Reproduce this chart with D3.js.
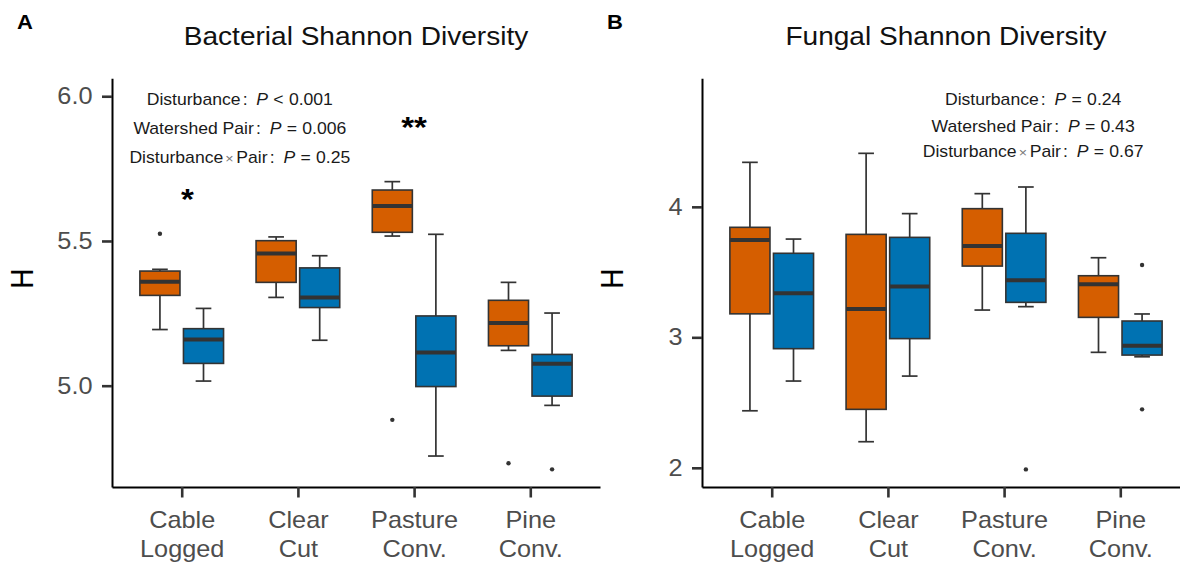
<!DOCTYPE html>
<html>
<head>
<meta charset="utf-8">
<script src="https://cdn.jsdelivr.net/npm/d3@7"></script>
<style>
  body { margin: 0; background: #fff; }
  svg { display: block; }
  text { font-family: "Liberation Sans", Arial, Helvetica, sans-serif; }
</style>
</head>
<body>
<svg id="chart" width="1180" height="565"></svg>
<script>
// ---- data ----------------------------------------------------------------
const categories = ["Cable Logged", "Clear Cut", "Pasture Conv.", "Pine Conv."];
const categoryLines = [["Cable", "Logged"], ["Clear", "Cut"], ["Pasture", "Conv."], ["Pine", "Conv."]];

// box summaries per category: [lower whisker, Q1, median, Q3, upper whisker]
const bacterialDisturbed = [
  [5.194, 5.312, 5.359, 5.396, 5.402],
  [5.305, 5.357, 5.457, 5.501, 5.514],
  [5.517, 5.530, 5.621, 5.676, 5.705],
  [5.122, 5.138, 5.217, 5.295, 5.357]
];
const bacterialDisturbedOutliers = [[5.525], [], [4.882], [4.732]];
const bacterialReference = [
  [5.016, 5.077, 5.160, 5.197, 5.267],
  [5.157, 5.270, 5.305, 5.407, 5.449],
  [4.757, 4.997, 5.115, 5.241, 5.523],
  [4.932, 4.964, 5.076, 5.108, 5.251]
];
const bacterialReferenceOutliers = [[], [], [], [4.711]];

const fungalDisturbed = [
  [2.437, 3.180, 3.746, 3.843, 4.341],
  [2.200, 2.448, 3.217, 3.789, 4.410],
  [3.209, 3.546, 3.700, 3.986, 4.101],
  [2.885, 3.153, 3.406, 3.472, 3.610]
];
const fungalDisturbedOutliers = [[], [], [], []];
const fungalReference = [
  [2.665, 2.913, 3.337, 3.644, 3.753],
  [2.703, 2.990, 3.390, 3.766, 3.948],
  [3.235, 3.268, 3.437, 3.797, 4.152],
  [2.851, 2.864, 2.936, 3.125, 3.179]
];
const fungalReferenceOutliers = [[], [], [1.988], [3.554, 2.448]];

const bacterialTicks = [5.0, 5.5, 6.0];
const fungalTicks = [2, 3, 4];

// model terms: [term, relation, P value]
const bacterialStats = [
  ["Disturbance", "<", "0.001"],
  ["Watershed Pair", "=", "0.006"],
  ["Disturbance × Pair", "=", "0.25"]
];
const fungalStats = [
  ["Disturbance", "=", "0.24"],
  ["Watershed Pair", "=", "0.43"],
  ["Disturbance × Pair", "=", "0.67"]
];

// significance marks: [category position (1-based), H value, label]
const bacterialMarks = [[1.05, 5.666, "*"], [3, 5.913, "**"]];
const fungalMarks = [];

// ---- drawing -------------------------------------------------------------
const svg = d3.select("#chart");
const SX = 1.1;                  // horizontal glyph stretch used for all text
const colors = ["#D55E00", "#0072B2"];
const ink = "#333333";

function stretched(parent, x, y) {
  return parent.append("text").attr("transform", `translate(${x},${y}) scale(${SX},1)`);
}

function drawPanel(cfg) {
  const g = svg.append("g").attr("transform", `translate(${cfg.offsetX},0)`);
  const left = 112, right = 600, top = 78.3, bottom = 487;

  const x = d3.scalePoint().domain(categories).range([left, right]).padding(0.6);
  const step = x.step();
  const xPos = u => x(categories[0]) + (u - 1) * step;   // continuous category position
  const y = d3.scaleLinear().domain(cfg.domain).range([bottom, top]);

  const dodge = 0.1875 * step;
  const boxW = 0.345 * step;
  const capW = 0.135 * step;

  // panel letter and title
  stretched(g, 17, 28.5).attr("font-size", 20).attr("font-weight", "bold")
    .attr("fill", "#000").text(cfg.letter);
  stretched(g, (left + right) / 2, 45).attr("font-size", 25.5).attr("text-anchor", "middle")
    .attr("fill", "#111").text(cfg.title);

  // y-axis title
  g.append("text")
    .attr("transform", `translate(22,278.7) scale(${SX},1) rotate(-90)`)
    .attr("font-size", 28).attr("text-anchor", "middle").attr("dominant-baseline", "central")
    .attr("fill", "#000").text("H");

  // boxes
  [cfg.disturbed, cfg.reference].forEach((series, si) => {
    const outliers = si === 0 ? cfg.disturbedOutliers : cfg.referenceOutliers;
    const sg = g.append("g");
    series.forEach((s, ci) => {
      const cx = x(categories[ci]) + (si === 0 ? -dodge : dodge);
      const [lo, q1, med, q3, hi] = s;
      const wg = sg.append("g").attr("stroke", ink).attr("stroke-width", 1.7).attr("fill", "none");
      wg.append("line").attr("x1", cx).attr("x2", cx).attr("y1", y(hi)).attr("y2", y(q3));
      wg.append("line").attr("x1", cx).attr("x2", cx).attr("y1", y(q1)).attr("y2", y(lo));
      wg.append("line").attr("x1", cx - capW / 2).attr("x2", cx + capW / 2).attr("y1", y(hi)).attr("y2", y(hi));
      wg.append("line").attr("x1", cx - capW / 2).attr("x2", cx + capW / 2).attr("y1", y(lo)).attr("y2", y(lo));
      sg.append("rect")
        .attr("x", cx - boxW / 2).attr("width", boxW)
        .attr("y", y(q3)).attr("height", y(q1) - y(q3))
        .attr("fill", colors[si]).attr("stroke", ink).attr("stroke-width", 1.6);
      sg.append("line")
        .attr("x1", cx - boxW / 2).attr("x2", cx + boxW / 2)
        .attr("y1", y(med)).attr("y2", y(med))
        .attr("stroke", ink).attr("stroke-width", 4);
      outliers[ci].forEach(v => {
        sg.append("circle").attr("cx", cx).attr("cy", y(v)).attr("r", 2.2).attr("fill", ink);
      });
    });
  });

  // axes
  const yAxis = g.append("g").attr("transform", `translate(${left},0)`)
    .call(d3.axisLeft(y).tickValues(cfg.ticks).tickFormat(cfg.fmt).tickSize(10).tickSizeOuter(0).tickPadding(9.5));
  const xAxis = g.append("g").attr("transform", `translate(0,${bottom})`)
    .call(d3.axisBottom(x).tickSize(10.5).tickSizeOuter(0));

  [yAxis, xAxis].forEach(a => {
    a.select(".domain").attr("stroke", "#000").attr("stroke-width", 2);
    a.selectAll(".tick line").attr("stroke", ink).attr("stroke-width", 2.6);
  });
  yAxis.selectAll(".tick text")
    .attr("x", -19.5 / SX).attr("transform", `scale(${SX},1)`)
    .attr("font-size", 23).attr("fill", "#4D4D4D").attr("font-family", null);

  xAxis.selectAll(".tick text").remove();
  xAxis.selectAll(".tick").each(function (d) {
    const lines = categoryLines[categories.indexOf(d)];
    const t = d3.select(this).append("text")
      .attr("transform", `scale(${SX},1)`)
      .attr("text-anchor", "middle").attr("font-size", 23).attr("fill", "#4D4D4D");
    lines.forEach((ln, i) => t.append("tspan").attr("x", 0).attr("y", i === 0 ? 41.3 : 69.7).text(ln));
  });

  // model statistics
  const statX = xPos(cfg.statPos);
  cfg.stats.forEach(([term, rel, p], i) => {
    const t = stretched(g, statX, cfg.statBaselines[i])
      .attr("text-anchor", "middle").attr("font-size", 16).attr("fill", "#1a1a1a");
    const parts = term.split(" × ");
    t.append("tspan").text(parts[0]);
    if (parts.length > 1) {
      t.append("tspan").attr("dx", "0.15em").attr("font-size", 13).attr("fill", "#777").text("×");
      t.append("tspan").attr("dx", "0.15em").text(parts[1]);
    }
    t.append("tspan").attr("dx", "0.12em").text(":");
    t.append("tspan").attr("dx", "0.5em").attr("font-style", "italic").text("P");
    t.append("tspan").attr("dx", "0.3em").text(rel);
    t.append("tspan").attr("dx", "0.3em").text(p);
  });

  // significance marks
  cfg.marks.forEach(([u, v, label]) => {
    stretched(g, xPos(u), y(v) + 15.6)
      .attr("text-anchor", "middle").attr("font-size", 30).attr("font-weight", "bold")
      .attr("fill", "#000").text(label);
  });
}

drawPanel({
  offsetX: 0, letter: "A", title: "Bacterial Shannon Diversity",
  domain: [4.650, 6.062], ticks: bacterialTicks, fmt: d3.format(".1f"),
  disturbed: bacterialDisturbed, disturbedOutliers: bacterialDisturbedOutliers,
  reference: bacterialReference, referenceOutliers: bacterialReferenceOutliers,
  stats: bacterialStats, statPos: 1.5, statBaselines: [105, 133.5, 162.7],
  marks: bacterialMarks
});

drawPanel({
  offsetX: 590, letter: "B", title: "Fungal Shannon Diversity",
  domain: [1.853, 4.985], ticks: fungalTicks, fmt: d3.format("d"),
  disturbed: fungalDisturbed, disturbedOutliers: fungalDisturbedOutliers,
  reference: fungalReference, referenceOutliers: fungalReferenceOutliers,
  stats: fungalStats, statPos: 3.25, statBaselines: [105.3, 131.7, 157.3],
  marks: fungalMarks
});
</script>
</body>
</html>
